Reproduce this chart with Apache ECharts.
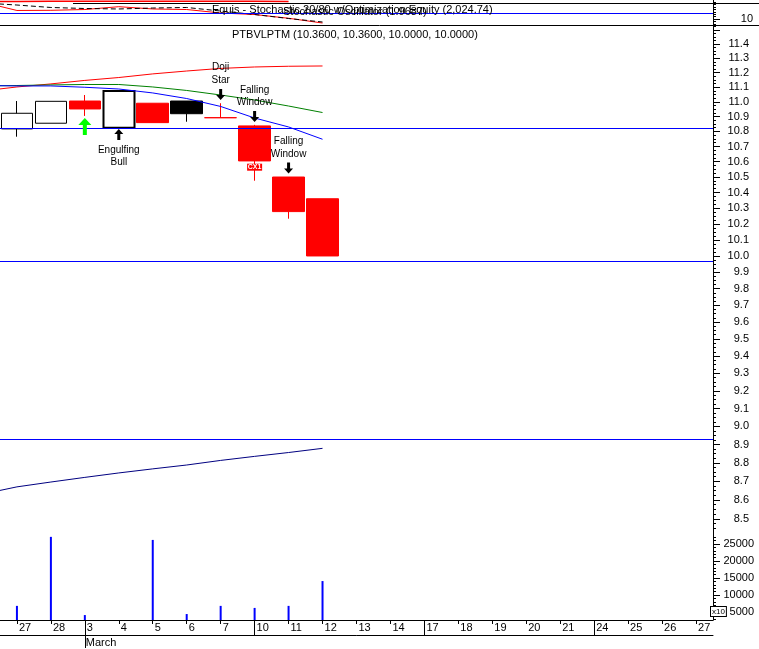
<!DOCTYPE html>
<html><head><meta charset="utf-8">
<script src="https://cdn.jsdelivr.net/npm/echarts@6.0.0/dist/echarts.min.js"></script>
<style>html,body{margin:0;padding:0;background:#fff}#c{width:759px;height:649px}</style>
</head><body><div id="c"></div>
<script>
// ---------- data ----------
const dates = ['2003-02-26','2003-02-27','2003-02-28','2003-03-03','2003-03-04','2003-03-05','2003-03-06','2003-03-07','2003-03-10','2003-03-11','2003-03-12','2003-03-13','2003-03-14','2003-03-17','2003-03-18','2003-03-19','2003-03-20','2003-03-21','2003-03-24','2003-03-25','2003-03-26','2003-03-27'];
const opens  = [null, 10.817, 10.855, 11.005, 10.825, 10.990, 11.005, 10.892, 10.837, 10.500, 10.360];
const closes = [null, 10.922, 11.003, 10.951, 11.074, 10.859, 10.919, 10.892, 10.605, 10.278, 10.000];
const lows   = [null, 10.765, 10.855, 10.904, 10.825, 10.859, 10.865, 10.892, 10.476, 10.233, 10.000];
const highs  = [null, 11.005, 11.003, 11.046, 11.074, 10.990, 11.005, 10.990, 10.844, 10.500, 10.360];
const volumes = [null, 6800, 27100, 4100, 1500, 26200, 4400, 6800, 6200, 6800, 14100];
const maRed   = [11.074, 11.101, 11.122, 11.146, 11.166, 11.191, 11.211, 11.229, 11.239, 11.244, 11.246];
const maGreen = [11.108, 11.111, 11.115, 11.118, 11.118, 11.101, 11.077, 11.046, 11.012, 10.971, 10.927];
const maBlue  = [11.111, 11.108, 11.108, 11.099, 11.087, 11.060, 11.022, 10.968, 10.890, 10.830, 10.748];
const navyLine = [8.632, 8.670, 8.696, 8.721, 8.745, 8.767, 8.788, 8.813, 8.835, 8.856, 8.879];
const levelLines = [10.817, 9.966, 8.933];
const stochK   = [38, 24.2, 24.5, 25.8, 30.5, 26.7, 25.8, 20, 17.5, 11.2, 3.3];
const stochD   = [36.7, 33.3, 29.2, 27.5, 26.7, 28.3, 29.2, 23.3, 17.5, 10.8, 5];
const stochTop = [39.2, 39.2, 39.5, 39.5, 39.5, 39.5, 39.5, 39.5, 39.5, 39.2, null];
const stochLevel = 20;
const priceTicks = []; for (let k = 85; k <= 115; k++) priceTicks.push(k / 10);
const priceLabels = priceTicks.filter(v => v <= 11.4);
const priceMinor = []; for (let k = 338; k <= 461; k++) priceMinor.push(k / 40);
const volLabels = [5000, 10000, 15000, 20000, 25000];
const volMinor = []; for (let k = 3; k <= 27; k++) volMinor.push(k * 1000);
const stochLabels = [10];
const stochMinor = [2, 6, 14, 18, 22, 26, 30, 34, 38];
const notes = [
  {date: '2003-03-03', price: 10.833, kind: 'buy'},
  {date: '2003-03-04', price: 10.780, kind: 'up'},
  {date: '2003-03-04', price: 10.636, text: 'Engulfing\nBull'},
  {date: '2003-03-07', price: 11.194, text: 'Doji\nStar'},
  {date: '2003-03-07', price: 11.050, kind: 'down'},
  {date: '2003-03-10', price: 11.037, text: 'Falling\nWindow'},
  {date: '2003-03-10', price: 10.900, kind: 'down'},
  {date: '2003-03-11', price: 10.690, text: 'Falling\nWindow'},
  {date: '2003-03-11', price: 10.559, kind: 'down'},
  {date: '2003-03-10', price: 10.564, text: 'CX1', kind: 'tag'}
];
const titleMain = 'PTBVLPTM (10.3600, 10.3600, 10.0000, 10.0000)';
const titleEq = 'Equis - Stochastic 20/80 w/Optimization Equity (2,024.74)';
const titleSt = 'Stochastic Oscillator (1.9687)';

// ---------- layout constants ----------
const FONT = '"Liberation Sans", Arial, sans-serif';
const P_MIN = 7.9852, P_MAX = 11.5344;
const VOL_MIN = 2647, VOL_MAX = 177647;
const ST_MAX = 41.67;
const BLUE = '#0000ff';

const dayOf = d => String(parseInt(d.slice(8), 10));
const isMonday = i => new Date(dates[i] + 'T00:00:00Z').getUTCDay() === 1;
const isMonthStart = i => i > 0 && dates[i].slice(5, 7) !== dates[i - 1].slice(5, 7);
const monthNames = ['January','February','March','April','May','June','July','August','September','October','November','December'];

const candles = opens.map((o, i) => {
  if (o == null) return '-';
  const c = closes[i];
  const up = c > o;
  const prev = closes[i - 1];
  const fill = up ? '#ffffff' : (prev != null && c >= prev ? '#000000' : '#ff0000');
  const border = up ? '#000000' : fill;
  return {value: [o, c, lows[i], highs[i]],
    itemStyle: {color: fill, color0: fill, borderColor: border, borderColor0: border, borderWidth: i === 4 ? 2 : 1}};
});

const upPath = 'path://M4.5,0 L9,5 L6,5 L6,11 L3,11 L3,5 L0,5 Z';
const downPath = 'path://M3,0 L6,0 L6,6 L9,6 L4.5,11 L0,6 L3,6 Z';
const buyPath = 'path://M6.5,0 L13,7 L8.5,7 L8.5,17 L4.5,17 L4.5,7 L0,7 Z';

const markPoints = notes.map(n => {
  const base = {coord: [n.date, n.price]};
  if (n.kind === 'buy') return Object.assign(base, {symbol: buyPath, symbolSize: [13, 17], itemStyle: {color: '#00ff00'}, label: {show: false}});
  if (n.kind === 'up') return Object.assign(base, {symbol: upPath, symbolSize: [9, 11], itemStyle: {color: '#000'}, label: {show: false}});
  if (n.kind === 'down') return Object.assign(base, {symbol: downPath, symbolSize: [9, 11], itemStyle: {color: '#000'}, label: {show: false}});
  if (n.kind === 'tag') return Object.assign(base, {symbol: 'rect', symbolSize: [15, 7], itemStyle: {color: '#ff0000'},
    label: {show: true, position: 'inside', formatter: n.text, color: '#fff', fontSize: 7, fontWeight: 'bold', lineHeight: 7, fontFamily: FONT}});
  return Object.assign(base, {symbol: 'circle', symbolSize: 1, itemStyle: {color: 'rgba(0,0,0,0)'},
    label: {show: true, position: 'inside', formatter: n.text, color: '#000', fontSize: 10, lineHeight: 12.6, fontFamily: FONT}});
});

const levelStyle = {color: BLUE, type: 'solid', width: 1, opacity: 1};
const txt = {color: '#000', fontFamily: FONT, fontSize: 11};
const chart = echarts.init(document.getElementById('c'), null, {renderer: 'canvas'});
chart.setOption({
  animation: false,
  backgroundColor: '#fff',
  title: [
    {text: titleMain, left: 232, top: 29, padding: 0, textStyle: Object.assign({fontWeight: 'normal'}, txt)},
    {text: titleEq, left: 212, top: 4, padding: 0, textStyle: Object.assign({fontWeight: 'normal'}, txt)},
    {text: titleSt, left: 283, top: 6.5, padding: 0, textStyle: Object.assign({fontWeight: 'normal'}, txt)}
  ],
  grid: [
    {left: -34, top: 25, width: 747, height: 595, containLabel: false, outerBoundsMode: 'none'},
    {left: -34, top: 0, width: 747, height: 25, containLabel: false, outerBoundsMode: 'none'}
  ],
  xAxis: [
    {type: 'category', gridIndex: 0, data: dates, boundaryGap: true, position: 'bottom',
      axisLine: {show: true, lineStyle: {color: '#000', width: 1}},
      axisTick: {show: true, alignWithLabel: true, interval: 0, length: 4, lineStyle: {color: '#000'}},
      axisLabel: {show: true, interval: 0, hideOverlap: false, formatter: (v, i) => i === 0 ? '' : dayOf(v), align: 'left', margin: 2, padding: [0, 0, 0, 2], fontSize: 11, color: '#000', fontFamily: FONT},
      splitLine: {show: false}},
    {type: 'category', gridIndex: 0, data: dates, boundaryGap: true, position: 'bottom', offset: 15,
      axisLine: {show: true, lineStyle: {color: '#000', width: 1}},
      axisTick: {show: true, alignWithLabel: true, inside: true, length: 15, interval: (i) => isMonday(i), lineStyle: {color: '#000'}},
      axisLabel: {show: false}, splitLine: {show: false}},
    {type: 'category', gridIndex: 0, data: dates, boundaryGap: true, position: 'bottom', offset: 15,
      axisLine: {show: false},
      axisTick: {show: true, alignWithLabel: true, length: 13, interval: (i) => isMonthStart(i), lineStyle: {color: '#000'}},
      axisLabel: {show: true, interval: (i) => isMonthStart(i), hideOverlap: false, formatter: (v) => monthNames[parseInt(v.slice(5, 7), 10) - 1], align: 'left', margin: 2, padding: [0, 0, 0, 1], fontSize: 11, color: '#000', fontFamily: FONT},
      splitLine: {show: false}},
    {type: 'category', gridIndex: 1, data: dates, boundaryGap: true, show: false}
  ],
  yAxis: [
    {type: 'log', gridIndex: 0, position: 'right', min: P_MIN, max: P_MAX, show: false, splitLine: {show: false}},
    {type: 'value', gridIndex: 0, position: 'right', min: Math.log(P_MIN), max: Math.log(P_MAX),
      axisLine: {show: true, lineStyle: {color: '#000', width: 1}},
      axisTick: {show: true, customValues: priceTicks.map(v => Math.log(v)), length: 7, lineStyle: {color: '#000'}},
      axisLabel: {show: true, customValues: priceLabels.map(v => Math.log(v)), formatter: v => Math.exp(v).toFixed(1), align: 'right', margin: 36, fontSize: 11, color: '#000', fontFamily: FONT},
      splitLine: {show: false}},
    {type: 'value', gridIndex: 0, position: 'right', min: Math.log(P_MIN), max: Math.log(P_MAX),
      axisLine: {show: false},
      axisTick: {show: true, customValues: priceMinor.map(v => Math.log(v)), length: 3, lineStyle: {color: '#000'}},
      axisLabel: {show: false}, splitLine: {show: false}},
    {type: 'value', gridIndex: 0, position: 'right', min: VOL_MIN, max: VOL_MAX,
      axisLine: {show: false},
      axisTick: {show: true, customValues: volLabels, length: 7, lineStyle: {color: '#000'}},
      axisLabel: {show: true, customValues: volLabels, formatter: v => String(v), align: 'right', margin: 41, fontSize: 11, color: '#000', fontFamily: FONT},
      splitLine: {show: false}},
    {type: 'value', gridIndex: 0, position: 'right', min: VOL_MIN, max: VOL_MAX,
      axisLine: {show: false},
      axisTick: {show: true, customValues: volMinor, length: 3, lineStyle: {color: '#000'}},
      axisLabel: {show: false}, splitLine: {show: false}},
    {type: 'value', gridIndex: 1, position: 'right', min: 0, max: ST_MAX,
      axisLine: {show: true, lineStyle: {color: '#000', width: 1}},
      axisTick: {show: true, customValues: stochLabels, length: 7, lineStyle: {color: '#000'}},
      axisLabel: {show: true, customValues: stochLabels, align: 'right', margin: 40, fontSize: 11, color: '#000', fontFamily: FONT},
      splitLine: {show: false}},
    {type: 'value', gridIndex: 1, position: 'right', min: 0, max: ST_MAX,
      axisLine: {show: false},
      axisTick: {show: true, customValues: stochMinor, length: 3, lineStyle: {color: '#000'}},
      axisLabel: {show: false}, splitLine: {show: false}}
  ],
  series: [
    {type: 'bar', name: 'Volume', xAxisIndex: 0, yAxisIndex: 3, data: volumes, barWidth: 2, itemStyle: {color: BLUE}, clip: true, silent: true},
    {type: 'candlestick', name: 'PTBVLPTM', xAxisIndex: 0, yAxisIndex: 0, data: candles, barWidth: 32, clip: true, silent: true,
      markLine: {silent: true, symbol: ['none', 'none'], label: {show: false}, lineStyle: levelStyle,
        emphasis: {disabled: true},
        data: levelLines.map(v => ({yAxis: v, lineStyle: levelStyle}))},
      markPoint: {silent: true, data: markPoints}},
    {type: 'line', name: 'MA red', xAxisIndex: 0, yAxisIndex: 0, data: maRed, symbol: 'none', lineStyle: {color: '#ff0000', width: 1}, silent: true},
    {type: 'line', name: 'MA green', xAxisIndex: 0, yAxisIndex: 0, data: maGreen, symbol: 'none', lineStyle: {color: '#008000', width: 1}, silent: true},
    {type: 'line', name: 'MA blue', xAxisIndex: 0, yAxisIndex: 0, data: maBlue, symbol: 'none', lineStyle: {color: BLUE, width: 1}, silent: true},
    {type: 'line', name: 'Navy', xAxisIndex: 0, yAxisIndex: 0, data: navyLine, symbol: 'none', lineStyle: {color: '#000080', width: 1}, silent: true},
    {type: 'line', name: 'StochK', xAxisIndex: 3, yAxisIndex: 5, data: stochK, symbol: 'none', lineStyle: {color: '#ff0000', width: 1}, silent: true,
      markLine: {silent: true, symbol: ['none', 'none'], label: {show: false}, lineStyle: levelStyle,
        data: [{yAxis: stochLevel, lineStyle: levelStyle}]}},
    {type: 'line', name: 'StochD', xAxisIndex: 3, yAxisIndex: 5, data: stochD, symbol: 'none', lineStyle: {color: '#000', width: 1, type: [5, 3]}, silent: true},
    {type: 'line', name: 'StochTop', xAxisIndex: 3, yAxisIndex: 5, data: stochTop, symbol: 'none', lineStyle: {color: '#ff0000', width: 1.5}, silent: true}
  ],
  graphic: [
    {type: 'line', shape: {x1: 0, y1: 25.5, x2: 759, y2: 25.5}, style: {stroke: '#000', lineWidth: 1}, z: 100, silent: true},
    {type: 'line', shape: {x1: 73, y1: 3.5, x2: 759, y2: 3.5}, style: {stroke: '#000', lineWidth: 1}, z: 100, silent: true},
    {type: 'text', x: 711, y: 607, z: 100, silent: true,
      style: {text: 'x10', fontSize: 8, fontFamily: FONT, fill: '#000', backgroundColor: '#fff', borderColor: '#000', borderWidth: 1, padding: [1, 1, 0, 1]}}
  ]
});
</script>
</body></html>
